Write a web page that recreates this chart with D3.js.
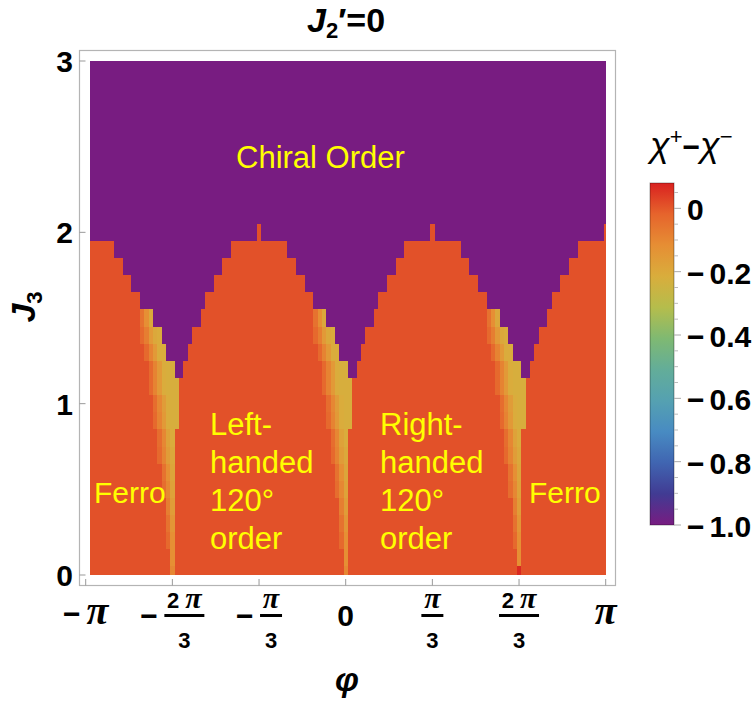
<!DOCTYPE html>
<html>
<head>
<meta charset="utf-8">
<script src="https://cdn.jsdelivr.net/npm/d3@7"></script>
<style>
  body { margin: 0; background: #fff; }
  text { font-family: "Liberation Sans", Arial, sans-serif; }
</style>
</head>
<body>
<svg id="chart" width="756" height="706"></svg>
<script>
// grid: phi = j*pi/60 (j = -59..60), J3 = k/10 (k = 0..30)
var phiIndex = d3.range(-59, 61);
var j3Rows = d3.range(0, 31);

// first J3 row (k) of the chiral phase, one entry per phi column
var chiralStart = [
  20,20,20,20,20,20, 19,19, 18,18, 17,17, 16,16,16, 15,15, 14, 13,13, 12,12, 13, 14, 15,15, 16, 17,17, 18,18, 19,19, 20,20,20,20,20,20, 21,
  20,20,20,20,20,20, 19,19, 18,18, 17,17, 16,16,16, 15,15, 14, 13,13, 12,12, 13, 14, 15,15, 16, 17,17, 18,18, 19,19, 20,20,20,20,20,20, 21,
  20,20,20,20,20,20, 19,19, 18,18, 17,17, 16,16,16, 15,15, 14, 13,13, 12,12, 13, 14, 15,15, 16, 17,17, 18,18, 19,19, 20,20,20,20,20,20, 21
];
var orderedValue = 0.01;   // ferro / 120 degree phases
var chiralValue = -1.0;

// crossover band left of each valley: columns counted from the valley centre
var valleyCentres = [-40, 0, 40];
var bandRows = [
  { k: 15, r0: -7, v: [-0.05, -0.12, -0.2] },
  { k: 14, r0: -7, v: [-0.03, -0.08, -0.15, -0.2, -0.21] },
  { k: 13, r0: -6, v: [-0.03, -0.09, -0.15, -0.21, -0.21] },
  { k: 12, r0: -5, v: [-0.03, -0.09, -0.15, -0.21, -0.22, -0.22] },
  { k: 11, r0: -5, v: [-0.03, -0.09, -0.15, -0.21, -0.22, -0.22, -0.22] },
  { k: 10, r0: -4, v: [-0.04, -0.1, -0.16, -0.21, -0.22, -0.22] },
  { k: 9,  r0: -4, v: [-0.03, -0.09, -0.15, -0.21, -0.22, -0.22] },
  { k: 8,  r0: -3, v: [-0.04, -0.1, -0.18, -0.21] },
  { k: 7,  r0: -3, v: [-0.03, -0.09, -0.16, -0.2] },
  { k: 6,  r0: -2, v: [-0.05, -0.12, -0.19] },
  { k: 5,  r0: -2, v: [-0.04, -0.1, -0.18] },
  { k: 4,  r0: -1, v: [-0.08, -0.16] },
  { k: 3,  r0: -1, v: [-0.05, -0.14] },
  { k: 2,  r0: -1, v: [-0.03, -0.12] },
  { k: 1,  r0: 0,  v: [-0.12] },
  { k: 0,  r0: 0,  v: [-0.1] }
];
var extraCells = [{ j: 40, k: 0, v: 0.07 }];

var xTicks = [-3, -2, -1, 0, 1, 2, 3];          // multiples of pi/3
var xTickLabels = ["−π", "−2π/3", "−π/3", "0", "π/3", "2π/3", "π"];
var yTicks = [0, 1, 2, 3];
var cbTicks = [0, -0.2, -0.4, -0.6, -0.8, -1.0];
var cbLabels = ["0", "−0.2", "−0.4", "−0.6", "−0.8", "−1.0"];
var cbMinor = [0.05, -0.05, -0.1, -0.15, -0.25, -0.3, -0.35, -0.45, -0.5, -0.55, -0.65, -0.7, -0.75, -0.85, -0.9, -0.95];
var rainbow = ["#781C81", "#413B93", "#4065B1", "#488BC2", "#55A1B1", "#63AD99",
               "#7FB972", "#B5BD4C", "#D9AD3C", "#E68E34", "#E6642C", "#D92120"];
var valueRange = [-1.0, 0.08];

var svg = d3.select("#chart");
var PI = Math.PI;

var x = d3.scaleLinear().domain([-PI, PI]).range([85.7, 605.7]);
var y = d3.scaleLinear().domain([0, 3]).range([575, 61]);

var color = d3.scaleLinear()
    .domain(rainbow.map(function (c, i) { return valueRange[0] + i / (rainbow.length - 1) * (valueRange[1] - valueRange[0]); }))
    .range(rainbow)
    .interpolate(d3.interpolateRgb)
    .clamp(true);

// build the value grid
var cells = [];
var grid = {};
phiIndex.forEach(function (j, i) {
    j3Rows.forEach(function (k) {
        grid[j + "," + k] = k >= chiralStart[i] ? chiralValue : orderedValue;
    });
});
valleyCentres.forEach(function (c) {
    bandRows.forEach(function (row) {
        row.v.forEach(function (v, m) {
            grid[(c + row.r0 + m) + "," + row.k] = v;
        });
    });
});
extraCells.forEach(function (d) { grid[d.j + "," + d.k] = d.v; });

var phiMin = phiIndex[0] * PI / 60, phiMax = PI;
phiIndex.forEach(function (j) {
    j3Rows.forEach(function (k) {
        cells.push({
            p0: Math.max((j - 0.5) * PI / 60, phiMin),
            p1: Math.min((j + 0.5) * PI / 60, phiMax),
            q0: Math.max((k - 0.5) / 10, 0),
            q1: Math.min((k + 0.5) / 10, 3),
            v: grid[j + "," + k]
        });
    });
});

// frame
svg.append("rect")
    .attr("x", 79.5).attr("y", 50.5)
    .attr("width", 536).attr("height", 535)
    .attr("fill", "none").attr("stroke", "#b4b4b4").attr("stroke-width", 1.2);

svg.append("g")
    .selectAll("rect")
    .data(cells)
    .enter().append("rect")
    .attr("x", function (d) { return x(d.p0); })
    .attr("y", function (d) { return y(d.q1); })
    .attr("width", function (d) { return x(d.p1) - x(d.p0); })
    .attr("height", function (d) { return y(d.q0) - y(d.q1); })
    .attr("fill", function (d) { return color(d.v); })
    .attr("shape-rendering", "crispEdges");

// ticks
svg.append("g").selectAll("line")
    .data(xTicks).enter().append("line")
    .attr("x1", function (d) { return x(d * PI / 3); })
    .attr("x2", function (d) { return x(d * PI / 3); })
    .attr("y1", 585.5).attr("y2", 579)
    .attr("stroke", "#999").attr("stroke-width", 1);

svg.append("g").selectAll("line")
    .data(yTicks).enter().append("line")
    .attr("x1", 79.5).attr("x2", 85.5)
    .attr("y1", function (d) { return y(d); })
    .attr("y2", function (d) { return y(d); })
    .attr("stroke", "#999").attr("stroke-width", 1);

svg.append("g").selectAll("text")
    .data(yTicks).enter().append("text")
    .attr("x", 73).attr("y", function (d) { return y(d) + 11; })
    .attr("text-anchor", "end")
    .attr("font-size", "30px").attr("font-weight", "bold")
    .text(function (d) { return d; });

// x tick labels (fractions of pi)
var piFont = '"Liberation Serif", "Times New Roman", serif';
xTickLabels.forEach(function (lab, i) {
    var cx = x(xTicks[i] * PI / 3);
    var g = svg.append("g");
    var neg = lab.charAt(0) === "−";
    var body = neg ? lab.slice(1) : lab;
    if (body.indexOf("/") < 0) {
        var t = g.append("text")
            .attr("x", cx).attr("y", body === "0" ? 626 : 624)
            .attr("text-anchor", "middle")
            .attr("font-size", "30px").attr("font-weight", "bold");
        if (neg) t.append("tspan").text("−");
        if (body === "π") {
            t.append("tspan").attr("dx", neg ? 6 : 0)
                .attr("font-family", piFont).attr("font-style", "italic")
                .attr("font-size", "40px").text("π");
        } else {
            t.text(body);
        }
        return;
    }
    var parts = body.split("/");
    var num = parts[0], den = parts[1];
    var fw = num.length > 1 ? 40 : 22;
    var total = fw + (neg ? 24 : 0);
    var left = cx - total / 2;
    if (neg) {
        g.append("text").attr("x", left).attr("y", 626)
            .attr("font-size", "30px").attr("font-weight", "bold").text("−");
    }
    var fc = left + total - fw / 2;
    var nt = g.append("text").attr("x", fc).attr("y", 608)
        .attr("text-anchor", "middle")
        .attr("font-size", "22px").attr("font-weight", "bold");
    if (num.length > 1) nt.append("tspan").text(num.charAt(0) + " ");
    nt.append("tspan").attr("font-family", piFont).attr("font-style", "italic")
        .attr("font-size", "30px").text("π");
    g.append("line").attr("x1", fc - fw / 2).attr("x2", fc + fw / 2)
        .attr("y1", 615.5).attr("y2", 615.5)
        .attr("stroke", "#000").attr("stroke-width", 3);
    g.append("text").attr("x", fc).attr("y", 648)
        .attr("text-anchor", "middle")
        .attr("font-size", "22px").attr("font-weight", "bold").text(den);
});

// axis titles
svg.append("text")
    .attr("x", 347).attr("y", 691)
    .attr("text-anchor", "middle")
    .attr("font-family", piFont).attr("font-style", "italic").attr("font-weight", "bold")
    .attr("font-size", "34px").text("φ");

var yl = svg.append("text")
    .attr("transform", "translate(35,307) rotate(-90)")
    .attr("text-anchor", "middle")
    .attr("font-size", "34px").attr("font-weight", "bold").attr("font-style", "italic");
yl.append("tspan").text("J");
yl.append("tspan").attr("font-size", "22px").attr("font-style", "normal").attr("dy", 7).text("3");

var title = svg.append("text")
    .attr("x", 346).attr("y", 32)
    .attr("text-anchor", "middle")
    .attr("font-size", "34px").attr("font-weight", "bold");
title.append("tspan").attr("font-style", "italic").text("J");
title.append("tspan").attr("font-size", "22px").attr("dy", 6).text("2");
title.append("tspan").attr("dy", -6).text("′=0");

// phase labels
var labels = [
    { x: 236, y: 168, size: 31, lines: ["Chiral Order"] },
    { x: 94, y: 503, size: 30, lines: ["Ferro"] },
    { x: 529, y: 503, size: 30, lines: ["Ferro"] },
    { x: 210, y: 435, size: 31, lines: ["Left-", "handed", "120°", "order"] },
    { x: 380, y: 435, size: 31, lines: ["Right-", "handed", "120°", "order"] }
];
labels.forEach(function (l) {
    var t = svg.append("text").attr("x", l.x).attr("y", l.y)
        .attr("font-size", l.size + "px").attr("fill", "#FFFF00");
    l.lines.forEach(function (s, i) {
        t.append("tspan").attr("x", l.x).attr("dy", i ? 38 : 0).text(s);
    });
});

// colour bar
var cb = d3.scaleLinear().domain(valueRange).range([525, 183]);
var defs = svg.append("defs");
var grad = defs.append("linearGradient").attr("id", "cbgrad")
    .attr("x1", 0).attr("y1", 1).attr("x2", 0).attr("y2", 0);
rainbow.forEach(function (c, i) {
    grad.append("stop").attr("offset", i / (rainbow.length - 1)).attr("stop-color", c);
});
svg.append("rect")
    .attr("x", 650).attr("y", cb(valueRange[1]))
    .attr("width", 24).attr("height", cb(valueRange[0]) - cb(valueRange[1]))
    .attr("fill", "url(#cbgrad)")
    .attr("stroke", "rgba(0,0,0,0.35)").attr("stroke-width", 1);

svg.append("g").selectAll("line")
    .data(cbTicks).enter().append("line")
    .attr("x1", 674).attr("x2", 681)
    .attr("y1", function (d) { return cb(d); })
    .attr("y2", function (d) { return cb(d); })
    .attr("stroke", "#aaa");
svg.append("g").selectAll("line")
    .data(cbMinor).enter().append("line")
    .attr("x1", 674).attr("x2", 678)
    .attr("y1", function (d) { return cb(d); })
    .attr("y2", function (d) { return cb(d); })
    .attr("stroke", "#bbb");

svg.append("g").selectAll("text")
    .data(cbTicks).enter().append("text")
    .attr("x", 687).attr("y", function (d) { return cb(d) + 12; })
    .attr("font-size", "30px").attr("font-weight", "bold")
    .each(function (d, i) {
        var s = cbLabels[i], t = d3.select(this);
        if (s.charAt(0) === "−") {
            t.append("tspan").text("−");
            t.append("tspan").attr("dx", 5).text(s.slice(1));
        } else {
            t.text(s);
        }
    });

var ct = svg.append("text")
    .attr("x", 650).attr("y", 157)
    .attr("font-family", piFont).attr("font-style", "italic")
    .attr("font-size", "36px");
ct.append("tspan").text("χ");
ct.append("tspan").attr("font-size", "22px").attr("dy", -13).attr("font-style", "normal").text("+");
ct.append("tspan").attr("dy", 13).attr("font-style", "normal").attr("font-family", "Liberation Sans").attr("font-weight", "bold").attr("font-size", "30px").text("−");
ct.append("tspan").text("χ");
ct.append("tspan").attr("font-size", "22px").attr("dy", -13).attr("font-style", "normal").text("−");
</script>
</body>
</html>
